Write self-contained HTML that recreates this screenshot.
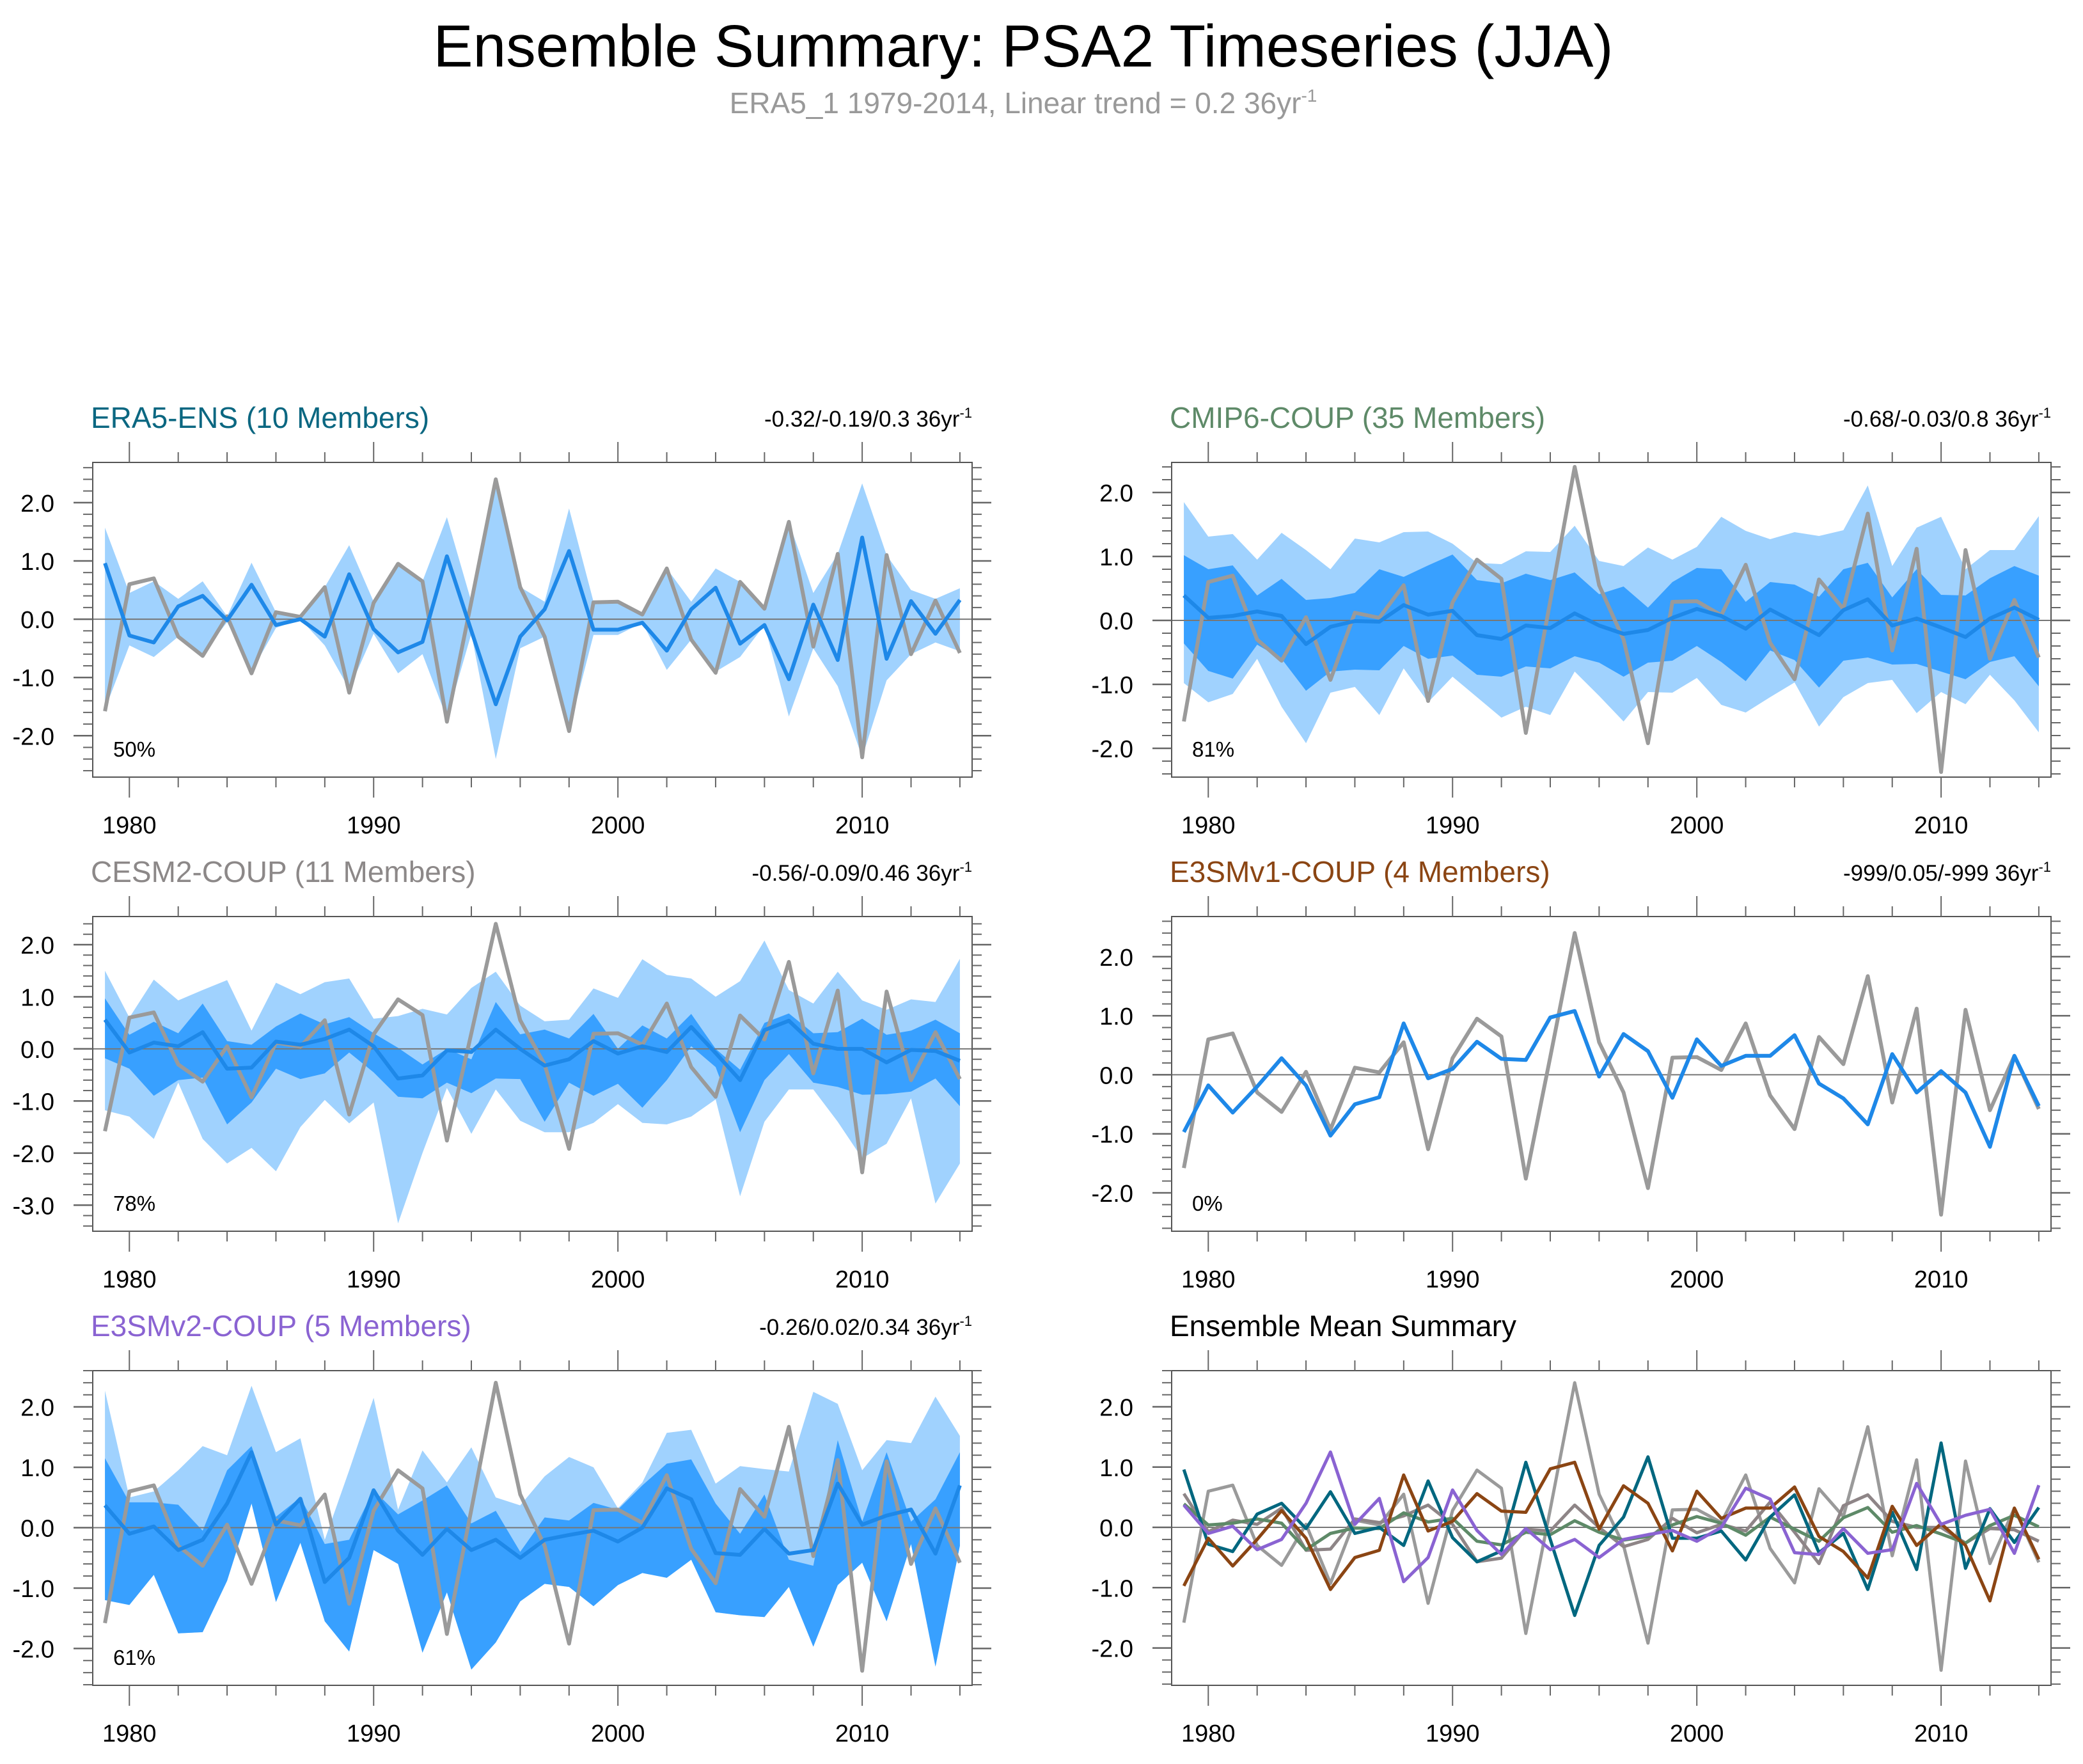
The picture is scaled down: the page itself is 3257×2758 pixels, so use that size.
<!DOCTYPE html>
<html><head><meta charset="utf-8">
<style>
html,body{margin:0;padding:0;background:#fff;}
svg{display:block;font-family:"Liberation Sans",sans-serif;}
</style></head>
<body>
<svg id="chart" width="3257" height="2758" viewBox="0 0 3257 2758" xmlns="http://www.w3.org/2000/svg">
<rect width="3257" height="2758" fill="#fff"/>
<text x="1600" y="104" font-size="93" text-anchor="middle" fill="#000">Ensemble Summary: PSA2 Timeseries (JJA)</text>
<text x="1600" y="177" font-size="46" text-anchor="middle" fill="#999">ERA5_1 1979-2014, Linear trend = 0.2 36yr<tspan dy="-18" font-size="28">-1</tspan></text>
</svg>
<script>
const years = [];
for (let y = 1979; y <= 2014; y++) years.push(y);
const obs = [-1.58,0.6,0.7,-0.3,-0.63,0.05,-0.93,0.12,0.04,0.55,-1.26,0.28,0.95,0.65,-1.76,0.3,2.4,0.55,-0.3,-1.92,0.29,0.3,0.08,0.87,-0.35,-0.92,0.64,0.18,1.67,-0.47,1.12,-2.37,1.1,-0.6,0.32,-0.58];
const era5Mean = [0.96,-0.28,-0.4,0.22,0.4,-0.02,0.59,-0.1,0.0,-0.3,0.77,-0.17,-0.57,-0.39,1.08,-0.2,-1.46,-0.3,0.17,1.17,-0.18,-0.18,-0.06,-0.54,0.17,0.54,-0.42,-0.1,-1.03,0.25,-0.7,1.4,-0.68,0.31,-0.25,0.33];
const era5Hi = [1.57,0.45,0.65,0.35,0.65,0.05,0.97,0.12,0.04,0.55,1.27,0.3,0.95,0.65,1.75,0.3,2.4,0.55,0.3,1.9,0.3,0.3,0.08,0.87,0.3,0.87,0.64,0.18,1.67,0.45,1.12,2.33,1.1,0.5,0.35,0.53];
const era5Lo = [-1.55,-0.45,-0.65,-0.3,-0.6,-0.05,-0.9,-0.15,0.0,-0.45,-1.2,-0.25,-0.93,-0.6,-1.7,-0.25,-2.4,-0.5,-0.3,-1.9,-0.27,-0.27,-0.06,-0.87,-0.35,-0.9,-0.65,-0.1,-1.67,-0.5,-1.15,-2.37,-1.05,-0.6,-0.4,-0.55];
const cmipMean = [0.39,0.04,0.07,0.14,0.07,-0.37,-0.1,-0.01,-0.02,0.24,0.09,0.15,-0.23,-0.29,-0.08,-0.12,0.11,-0.08,-0.21,-0.15,0.04,0.18,0.07,-0.13,0.17,-0.03,-0.23,0.16,0.33,-0.08,0.03,-0.11,-0.26,0.03,0.2,0.01];
const cmipDarkHi = [1.02,0.8,0.86,0.39,0.65,0.32,0.35,0.43,0.8,0.68,0.86,1.03,0.63,0.58,0.73,0.63,0.75,0.41,0.53,0.2,0.6,0.82,0.8,0.29,0.6,0.56,0.37,0.8,0.9,0.36,0.8,0.4,0.39,0.66,0.85,0.7];
const cmipDarkLo = [-0.36,-0.79,-0.91,-0.38,-0.6,-1.1,-0.8,-0.77,-0.78,-0.4,-0.6,-0.55,-0.85,-0.88,-0.72,-0.75,-0.56,-0.66,-0.88,-0.66,-0.63,-0.4,-0.65,-0.95,-0.47,-0.62,-1.05,-0.63,-0.58,-0.69,-0.68,-0.8,-0.92,-0.65,-0.56,-1.03];
const cmipHi = [1.85,1.31,1.35,0.95,1.37,1.1,0.8,1.28,1.22,1.38,1.39,1.2,0.9,0.88,1.08,1.07,1.48,0.93,0.85,1.14,0.95,1.15,1.62,1.4,1.27,1.38,1.32,1.41,2.11,0.85,1.45,1.62,0.8,1.1,1.1,1.63];
const cmipLo = [-0.98,-1.28,-1.15,-0.6,-1.35,-1.92,-1.13,-1.04,-1.48,-0.75,-1.28,-0.88,-1.2,-1.52,-1.35,-1.48,-0.8,-1.18,-1.58,-1.12,-1.13,-0.9,-1.32,-1.44,-1.2,-0.97,-1.66,-1.2,-0.98,-0.93,-1.45,-1.12,-1.31,-0.85,-1.25,-1.75];
const cesmMean = [0.56,-0.07,0.12,0.05,0.32,-0.38,-0.36,0.14,0.08,0.19,0.37,0.05,-0.57,-0.51,-0.03,-0.06,0.37,0.0,-0.32,-0.2,0.15,-0.09,0.05,-0.06,0.42,-0.08,-0.6,0.36,0.54,0.1,0.0,0.0,-0.26,-0.02,-0.04,-0.23];
const cesmDarkHi = [0.97,0.27,0.52,0.3,0.87,0.15,0.08,0.43,0.68,0.47,0.61,0.3,0.02,-0.3,0.0,-0.2,0.9,0.28,0.37,0.2,0.67,0.0,0.45,0.2,0.67,0.0,-0.4,0.5,0.68,0.3,0.32,0.58,0.27,0.35,0.56,0.3];
const cesmDarkLo = [-0.18,-0.38,-0.9,-0.6,-0.55,-1.45,-1.03,-0.38,-0.58,-0.47,-0.07,-0.45,-0.92,-0.95,-0.65,-0.85,-0.57,-0.58,-1.4,-0.65,-0.9,-0.67,-1.13,-0.6,0.05,-0.35,-1.6,-0.6,-0.1,-0.65,-0.73,-0.88,-0.87,-0.82,-0.57,-1.1];
const cesmHi = [1.5,0.6,1.33,0.93,1.13,1.32,0.35,1.27,1.05,1.28,1.35,0.58,0.63,0.77,0.66,1.17,1.48,0.83,0.53,0.56,1.16,0.98,1.72,1.42,1.35,1.0,1.3,2.08,1.13,0.87,1.48,0.93,0.75,0.95,0.9,1.73];
const cesmLo = [-1.18,-1.3,-1.73,-0.65,-1.73,-2.2,-1.9,-2.35,-1.5,-0.98,-1.43,-1.03,-3.35,-2.0,-0.75,-1.63,-0.78,-1.38,-1.6,-1.6,-1.42,-1.06,-1.42,-1.45,-1.3,-0.97,-2.83,-1.4,-0.78,-0.78,-1.4,-2.1,-1.82,-0.95,-2.97,-2.2];
const e3v1Mean = [-0.97,-0.18,-0.64,-0.2,0.28,-0.18,-1.03,-0.5,-0.38,0.87,-0.06,0.1,0.56,0.27,0.25,0.97,1.08,-0.03,0.69,0.4,-0.39,0.6,0.15,0.32,0.32,0.67,-0.15,-0.4,-0.84,0.35,-0.3,0.06,-0.3,-1.22,0.32,-0.53];
const e3v2Mean = [0.37,-0.1,0.02,-0.37,-0.2,0.4,1.25,0.05,0.48,-0.9,-0.5,0.62,-0.05,-0.45,-0.02,-0.37,-0.2,-0.5,-0.2,-0.12,-0.05,-0.23,0.0,0.65,0.47,-0.42,-0.45,-0.02,-0.43,-0.37,0.73,0.05,0.2,0.3,-0.43,0.7];
const e3v2DarkHi = [1.15,0.42,0.42,0.38,-0.05,0.95,1.35,0.18,0.5,-0.27,-0.2,0.62,0.22,0.45,0.7,0.07,0.28,-0.4,0.17,0.12,0.41,0.3,0.7,1.06,1.13,0.4,-0.1,0.55,-0.53,-0.63,1.45,0.1,1.25,0.1,0.47,1.25];
const e3v2DarkLo = [-1.2,-1.28,-0.78,-1.75,-1.73,-0.88,0.4,-1.23,-0.25,-1.55,-2.05,-0.37,-0.6,-2.07,-1.07,-2.35,-1.9,-1.22,-0.93,-0.98,-1.3,-0.95,-0.75,-0.83,-0.53,-1.4,-1.45,-1.48,-0.98,-1.97,-0.95,-0.58,-1.55,-0.27,-2.3,-0.3];
const e3v2Hi = [2.27,0.5,0.6,0.95,1.35,1.2,2.35,1.25,1.48,-0.2,0.95,2.15,0.3,1.28,0.75,1.33,0.5,0.37,0.85,1.17,1.0,0.32,0.75,1.57,1.62,0.73,1.02,0.97,0.93,2.25,2.05,0.95,1.45,1.4,2.17,1.52];
const e3v2Lo = e3v2DarkLo;
const yTicks = [-3,-2,-1,0,1,2];
const yTickLabels = ["-3.0","-2.0","-1.0","0.0","1.0","2.0"];
const xTicks = [1980,1990,2000,2010];
const xTickLabels = ["1980","1990","2000","2010"];

const NS = "http://www.w3.org/2000/svg";
const svg = document.getElementById('chart');
const LIGHT = "#a0d2fe", DARK = "#38a0ff", MEANC = "#1e88e8", OBSC = "#9a9a9a";

function mk(tag, attrs, parent) {
  const e = document.createElementNS(NS, tag);
  for (const k in attrs) e.setAttribute(k, attrs[k]);
  (parent || svg).appendChild(e);
  return e;
}

const panels = [
  {name:'era5-ens', left:145, top:723, ymin:-2.71, ymax:2.69, title:'ERA5-ENS (10 Members)', tcol:'#0b6781', right:'-0.32/-0.19/0.3 36yr', pct:'50%', bands:[[era5Hi,era5Lo,LIGHT]], mean:era5Mean},
  {name:'cmip6-coup', left:1832, top:723, ymin:-2.45, ymax:2.47, title:'CMIP6-COUP (35 Members)', tcol:'#5e8a68', right:'-0.68/-0.03/0.8 36yr', pct:'81%', bands:[[cmipHi,cmipLo,LIGHT],[cmipDarkHi,cmipDarkLo,DARK]], mean:cmipMean},
  {name:'cesm2-coup', left:145, top:1433, ymin:-3.5, ymax:2.54, title:'CESM2-COUP (11 Members)', tcol:'#8c8888', right:'-0.56/-0.09/0.46 36yr', pct:'78%', bands:[[cesmHi,cesmLo,LIGHT],[cesmDarkHi,cesmDarkLo,DARK]], mean:cesmMean},
  {name:'e3smv1-coup', left:1832, top:1433, ymin:-2.65, ymax:2.68, title:'E3SMv1-COUP (4 Members)', tcol:'#8b4513', right:'-999/0.05/-999 36yr', pct:'0%', bands:[], mean:e3v1Mean},
  {name:'e3smv2-coup', left:145, top:2143, ymin:-2.61, ymax:2.6, title:'E3SMv2-COUP (5 Members)', tcol:'#8a63d2', right:'-0.26/0.02/0.34 36yr', pct:'61%', bands:[[e3v2Hi,e3v2Lo,LIGHT],[e3v2DarkHi,e3v2DarkLo,DARK]], mean:e3v2Mean},
  {name:'ensemble-mean-summary', left:1832, top:2143, ymin:-2.62, ymax:2.6, title:'Ensemble Mean Summary', tcol:'#000', right:null, pct:null, bands:[], mean:null,
   multi:[[obs,OBSC,'obs'],[cesmMean,'#8e8587','cesm2'],[cmipMean,'#5e8a68','cmip6'],[era5Mean,'#00677f','era5'],[e3v1Mean,'#8b4513','e3smv1'],[e3v2Mean,'#8a63d2','e3smv2']]}
];
const W = 1375, H = 492;

panels.forEach(p => {
  const g = mk('g', {});
  
  
  const xs = yr => p.left + (yr - 1978.5) / 36 * W;
  const ys = v => p.top + (p.ymax - v) / (p.ymax - p.ymin) * H;
  const bottom = p.top + H, right = p.left + W;

  p.bands.forEach((b, bi) => {
    let d = '';
    years.forEach((y, i) => { d += (i ? 'L' : 'M') + xs(y).toFixed(1) + ',' + ys(b[0][i]).toFixed(1); });
    for (let i = years.length - 1; i >= 0; i--) d += 'L' + xs(years[i]).toFixed(1) + ',' + ys(b[1][i]).toFixed(1);
    const e = mk('path', {d: d + 'Z', fill: b[2]}, g);
    
    
  });
  const z = mk('line', {x1: p.left - 30, x2: right + 30, y1: ys(0), y2: ys(0), stroke: '#777', 'stroke-width': 2}, g);
  
  

  function line(arr, col, sw, nm) {
    let d = '';
    years.forEach((y, i) => { d += (i ? 'L' : 'M') + xs(y).toFixed(1) + ',' + ys(arr[i]).toFixed(1); });
    const e = mk('path', {d, fill: 'none', stroke: col, 'stroke-width': sw, 'stroke-linejoin': 'round'}, g);
    
    
  }
  if (p.multi) {
    p.multi.forEach(m => line(m[0], m[1], 5, m[2] + '-line'));
  } else {
    line(obs, OBSC, 6, 'observed-line');
    line(p.mean, MEANC, 6, 'ensemble-mean-line');
  }
  const bx = mk('rect', {x: p.left, y: p.top, width: W, height: H, fill: 'none', stroke: '#555', 'stroke-width': 2}, g);
  
  
  for (let k = Math.ceil(p.ymin * 5); k <= Math.floor(p.ymax * 5); k++) {
    const v = k / 5, yy = ys(v), major = k % 5 === 0;
    const L = major ? 30 : 15;
    mk('line', {x1: p.left - L, x2: p.left, y1: yy, y2: yy, stroke: '#666', 'stroke-width': major ? 2.5 : 2}, g);
    mk('line', {x1: right, x2: right + L, y1: yy, y2: yy, stroke: '#666', 'stroke-width': major ? 2.5 : 2}, g);
  }
  yTicks.forEach((v, i) => {
    if (v < p.ymin || v > p.ymax) return;
    const t = mk('text', {x: p.left - 60, y: ys(v) + 14, 'font-size': 38, 'text-anchor': 'end', fill: '#000'}, g);
    t.textContent = yTickLabels[i];
    
    
  });
  for (let yr = 1980; yr <= 2014; yr += 2) {
    const xx = xs(yr), major = yr % 10 === 0;
    const L = major ? 32 : 16;
    mk('line', {x1: xx, x2: xx, y1: p.top - L, y2: p.top, stroke: '#666', 'stroke-width': 2}, g);
    mk('line', {x1: xx, x2: xx, y1: bottom, y2: bottom + L, stroke: '#666', 'stroke-width': 2}, g);
  }
  xTicks.forEach((v, i) => {
    const t = mk('text', {x: xs(v), y: bottom + 88, 'font-size': 38, 'text-anchor': 'middle', fill: '#000'}, g);
    t.textContent = xTickLabels[i];
    
    
  });
  const tt = mk('text', {x: p.left - 3, y: p.top - 54, 'font-size': 46, fill: p.tcol}, g);
  tt.textContent = p.title;
  
  
  if (p.right) {
    const rt = mk('text', {x: right, y: p.top - 56, 'font-size': 35, 'text-anchor': 'end', fill: '#000'}, g);
    rt.textContent = p.right;
    const sup = mk('tspan', {dy: -14, 'font-size': 22}, rt);
    sup.textContent = '-1';
    
    
  }
  if (p.pct) {
    const pt = mk('text', {x: p.left + 32, y: bottom - 32, 'font-size': 33, fill: '#000'}, g);
    pt.textContent = p.pct;
    
    
  }
});
</script>
</body></html>
